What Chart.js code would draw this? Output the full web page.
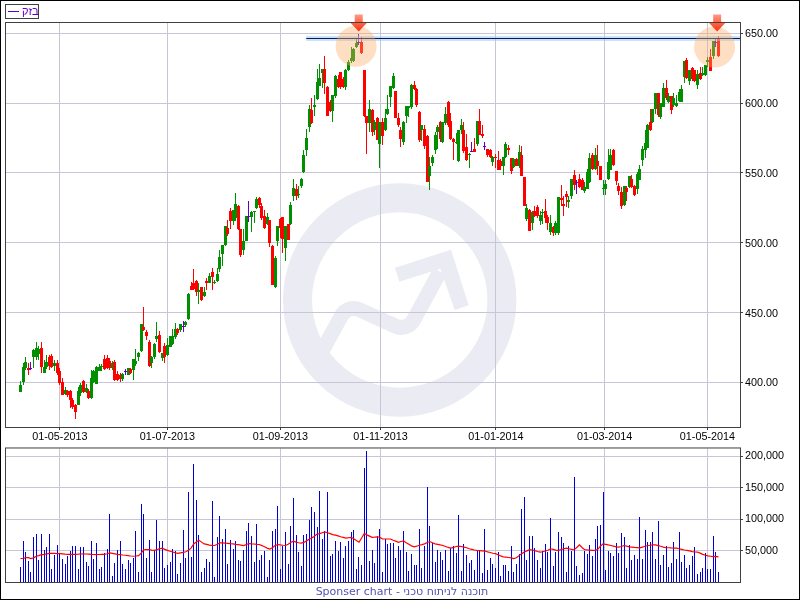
<!DOCTYPE html>
<html lang="he">

<head>
  <meta charset="UTF-8" />
  <title>בזק</title>
  <script src="https://cdn.jsdelivr.net/npm/chart.js"></script>
  <style>
    body { margin: 0; background: #fff; }
    canvas { position: absolute; left: 0; }
    #priceChart { top: 0; }
    #volumeChart { top: 440px; }
    #frame { position: absolute; left: 0; top: 0; width: 800px; height: 600px; box-sizing: border-box; border: 1px solid #000; pointer-events: none; }
    #legend { position: absolute; left: 5px; top: 4px; width: 32px; height: 13px; border: 1px solid #404040; background: #fff; color: #6000c8; font: 11px "Liberation Sans", sans-serif; line-height: 13px; }
    #legend i { position: absolute; left: 2px; top: 6px; width: 11px; height: 1px; background: #6000c8; }
    #legend span { position: absolute; left: 16px; top: 0; }
    #sponsor { position: absolute; left: 0; top: 585px; width: 804px; text-align: center; color: #5454b0; font: 11px "DejaVu Sans", sans-serif; }
  </style>
</head>

<body>
  <canvas id="priceChart" width="800" height="445"></canvas>
  <canvas id="volumeChart" width="800" height="160"></canvas>
  <div id="legend"><i></i><span>בזק</span></div>
  <div id="sponsor" dir="ltr">Sponser chart - תוכנה לניתוח טכני</div>
  <div id="frame"></div>

  <script>
    const dateTicks = [15, 56, 99, 137.2, 181.2, 222.6, 261.8];
    const dateLabels = ['01-05-2013', '01-07-2013', '01-09-2013', '01-11-2013', '01-01-2014', '01-03-2014', '01-05-2014'];
    const priceTicks = [400, 450, 500, 550, 600, 650];
    const volumeTicks = [50000, 100000, 150000, 200000];

    const opens = [
      393.4, 400.1, 410.6, 410.6, 410.6, 418, 418.5, 420.4, 424.5, 407,
      411.3, 418.5, 419, 411.8, 414.2, 407.8, 400.1, 391.8, 393.9, 393.9,
      387.5, 383.9, 383.9, 392, 401, 393, 393.9, 388.6, 400, 399,
      408.2, 411.4, 416.6, 417.3, 415.6, 410.1, 414.4, 405.8, 405.4, 402.5,
      407.8, 405.4, 409.4, 409, 413, 418.5, 422.5, 439.5, 436, 428.8,
      414, 418, 431, 433.8, 417.5, 426, 419.7, 425.6, 427.6, 432.3,
      438.3, 437.6, 440, 440.9, 445.2, 469, 471, 472.7, 464.6, 468,
      461.5, 472.7, 471.5, 478.7, 471.5, 472.9, 481.3, 492.1, 498.6, 510.5,
      522.9, 515.3, 517.7, 526, 509.8, 495, 501.4, 518.9, 518.4, 522.2,
      524.8, 532.2, 526.5, 519.3, 513.4, 516.5, 497.9, 468, 501.4, 517,
      518.4, 496, 513.6, 513.4, 533.7, 538.4, 533.9, 540.4, 551, 566.5,
      583.2, 595.2, 597.5, 603, 612.4, 621.4, 624.3, 611.9, 601, 594.5,
      605.2, 617, 622, 617.4, 611.9, 623.8, 630.5, 630.5, 640.5, 643.6,
      644.1, 623.8, 590.9, 586, 595.2, 580.8, 589.7, 570.8, 586.3, 580.8,
      592, 604.2, 610.7, 608.8, 589.7, 580.8, 572.5, 590.9, 596.5, 597.5,
      613.1, 610.2, 594, 580.8, 581.5, 576.5, 548.1, 556.9, 566.5, 579.6,
      586.8, 571.8, 585.6, 600.9, 587.3, 574.1, 571.3, 558.6, 580.8, 580.4,
      568.9, 563, 565.5, 567, 570.6, 587.3, 578, 569.4, 567, 566.5,
      557.6, 561.2, 559.6, 558.4, 554.8, 561.2, 567.9, 560.7, 554, 560.3,
      555.3, 563.1, 546.9, 517.3, 523.7, 514.2, 522.5, 525.6, 515.4, 522,
      523, 518.2, 507.5, 511, 507, 507, 532.1, 528, 535.2, 529,
      533.8, 548.8, 543.3, 545.9, 545.2, 536.9, 538.8, 543.3, 563.1, 553.1,
      558.8, 555.2, 539, 538.7, 545.9, 552.3, 566.7, 551.6, 540.4, 536.3,
      527.3, 539.2, 539.7, 545.9, 540.9, 538.5, 545.2, 559.5, 566.7, 568.2,
      586.3, 586.3, 595.9, 607.1, 590.4, 597.5, 610.7, 600.6, 605.2, 598.7,
      598.3, 601.8, 601.1, 619, 631, 615.9, 625, 623.8, 613.3, 621.4,
      620.2, 620.2, 629.8, 633.4, 634, 643.6, 646.5
    ];
    const highs = [
      400.6, 413.7, 418, 413.7, 414.4, 424, 428.8, 425.7, 428.8, 416,
      419.7, 419.7, 420.4, 416.1, 416.1, 410.1, 403, 397, 394.4, 394.4,
      388.6, 384.6, 397, 399.4, 401.5, 399, 395, 408.5, 409, 411.8,
      413, 413, 419.7, 419.7, 417.3, 415.6, 416.1, 407.8, 406.6, 407,
      409.4, 410.1, 410, 417, 424, 421.5, 442, 454, 437.6, 430.4,
      419, 428, 443, 436.6, 421, 428, 432, 433.5, 438, 442.4,
      439, 442, 444, 444, 463.9, 472, 481.3, 473.4, 471, 468.2,
      468, 474.6, 478, 481.8, 473, 481.8, 494.9, 498.6, 512.2, 516.5,
      524.8, 523.2, 535.6, 527, 510, 509.8, 519.3, 530, 522.5, 523,
      532.7, 532.7, 528.4, 523.6, 521.3, 516.5, 498.6, 490.2, 512.2, 517.7,
      518.4, 512.2, 513.6, 529, 545.9, 542.3, 540.4, 546.3, 566.5, 581.3,
      598.7, 603.5, 606, 624.3, 628, 624.5, 633.8, 612.3, 602, 606,
      620.2, 620, 622.1, 619, 624.3, 631, 640, 639.3, 646.5, 649.6,
      647.2, 623.8, 591, 602.3, 595.9, 588, 590, 586.8, 589, 595.6,
      606, 612.5, 621.4, 609, 592.8, 583, 587, 598.2, 598.2, 613.5,
      615.5, 610.5, 594.2, 584, 584.4, 577, 561.7, 563, 579.6, 584.4,
      587.3, 586.8, 597, 601.2, 592.8, 574.8, 578.4, 581, 588.7, 586.8,
      578, 564, 572, 574.8, 587.5, 595.9, 584, 572.5, 567.2, 567,
      562, 563.6, 566, 560, 561.5, 572, 570.3, 561, 560.5, 561,
      570.3, 569, 547.2, 528, 524, 522.5, 526.6, 527.3, 522.5, 524.2,
      531.6, 520, 520, 511.8, 515.4, 532.6, 541.6, 533.3, 536.9, 533.3,
      546, 551.9, 545.2, 549.5, 546.4, 543.3, 552.9, 564.3, 564.3, 568,
      570.3, 555.2, 545.2, 545.2, 567.1, 567.1, 567.4, 551.6, 542.8, 539.9,
      540.9, 540.4, 548, 548.8, 541, 550.7, 555.9, 569, 581, 585,
      595.9, 596, 607.3, 607.3, 600.3, 614.3, 616.6, 607.1, 605.4, 607,
      606, 610, 613, 630.3, 632.2, 623.8, 626.2, 624, 623.8, 626.2,
      626.2, 627.4, 632.7, 638.9, 644.6, 646.5, 648.2
    ];
    const lows = [
      393.4, 398.2, 408.5, 404.9, 408.5, 410, 416, 416.1, 406.6, 406.6,
      409.4, 408.9, 410.1, 407.8, 405.4, 398.2, 390.6, 391, 389.8, 381.5,
      380.8, 373.6, 383.9, 390, 392.7, 392, 388.2, 388, 399.4, 398.9,
      407.8, 407.8, 408.9, 409.4, 408.9, 408.9, 400.6, 400.6, 400.1, 401.3,
      405.4, 405.3, 406.3, 402, 412, 415.6, 422, 437, 430.4, 411,
      410, 417, 429, 420.9, 415, 414.2, 419, 425, 427, 431,
      434, 435.7, 436.4, 439.7, 444.3, 465.8, 466, 461.5, 456.2, 458.6,
      461, 466, 471, 466, 470.5, 472, 478.7, 483, 498, 504.5,
      510, 512.9, 515.3, 509.3, 489.5, 491.4, 501, 514.6, 508, 514,
      524.4, 524.8, 516.5, 509.8, 512.9, 496.7, 469.9, 467.5, 497.4, 503.3,
      493, 486.6, 501.6, 512.4, 529.6, 530.3, 532, 539.2, 549.8, 562.4,
      579.6, 585, 590.8, 602.3, 612, 611, 606.6, 590.8, 594, 586.6,
      604, 610.7, 610.2, 611, 609.5, 623, 629, 629.8, 639.3, 641.7,
      635.5, 590, 563.6, 579.6, 576.8, 577, 573.7, 553.8, 570, 580,
      591.6, 597, 610, 589, 583, 568.4, 570, 586, 590, 596,
      609.5, 597.5, 572.5, 573, 567, 543.5, 537.8, 555, 563.4, 567,
      572.5, 571.3, 584.4, 583, 573.7, 559.3, 571, 558, 578, 564,
      558.9, 553.4, 564.8, 564.8, 569.6, 577, 574.9, 566.5, 561.7, 561,
      555, 553.6, 552, 552, 548.3, 560.7, 563.1, 549.5, 553.6, 555,
      553.6, 548, 526.1, 515.4, 508.2, 509.4, 518.5, 517.8, 513, 513.5,
      514, 509.4, 505.8, 505, 505.3, 505.8, 526.6, 519.4, 525.6, 525,
      531.4, 538, 535.2, 539.2, 537.9, 535.7, 538.8, 542.8, 552.4, 552,
      548.8, 544.7, 534.4, 534, 545.2, 552, 555, 541.6, 534, 524.2,
      526.6, 529.7, 539.2, 539.2, 533.7, 535, 544.7, 555.2, 560.7, 568.2,
      580, 585.6, 592, 590.4, 588.5, 597, 602.3, 600, 592.3, 597,
      597, 600.6, 600.6, 614.7, 617.1, 613, 616.2, 615, 610.2, 616.7,
      619.5, 619.7, 626.2, 623.3, 631.7, 640.5, 633.4
    ];
    const closes = [
      398.2, 411.3, 414.7, 408.9, 410.6, 423.3, 424.5, 423.7, 411.3, 411.3,
      414.7, 411.8, 411.3, 413.7, 406.6, 399.4, 390.6, 394.6, 390.6, 387,
      382.2, 378.4, 393.9, 398, 393.4, 396, 388.6, 403, 407.8, 411.3,
      411.3, 411.8, 409.4, 410.1, 410.1, 413.7, 401.8, 401.8, 402.3, 405.8,
      407.8, 410, 406.6, 417, 415, 421, 442, 437.6, 433, 411.8,
      418, 427.6, 433.3, 422, 420.9, 418, 426.8, 433.3, 433.5, 438.3,
      435.2, 441.9, 440, 443.3, 463.4, 466, 466.7, 465, 466.2, 459,
      465, 471.5, 476.3, 475.8, 472.2, 477.8, 489.6, 498.6, 512.2, 506.4,
      515.3, 523.2, 528, 510, 491.4, 501.4, 519.3, 518.9, 522, 522.7,
      531.5, 527.2, 517.7, 510.3, 518.2, 499.8, 469.9, 489.3, 512.2, 510.5,
      502.9, 512.2, 502, 527.2, 539.2, 533.7, 534.6, 545.9, 562.9, 574.9,
      595.9, 585.6, 598.7, 615, 617.8, 624.3, 614.7, 590.9, 594.5, 605.9,
      619.5, 611.4, 611.2, 611.9, 623.8, 629.8, 632.2, 638.6, 642.9, 643.6,
      635.8, 590.9, 586, 595.9, 579.6, 586.8, 573.7, 586.3, 576.5, 589.7,
      595.9, 612.4, 619.5, 589.2, 584, 574.4, 586.8, 598, 598, 613.1,
      610, 598.7, 573.7, 584, 569.4, 543.8, 555, 561.7, 577.2, 583.2,
      574.1, 586.3, 592.3, 584.4, 574.1, 571.8, 572.5, 580.8, 584.4, 565.8,
      559.3, 563.4, 565.5, 565.3, 587.3, 577.2, 576.5, 569.4, 563, 561.7,
      561.5, 561, 552.4, 555.3, 561.5, 571, 566.7, 551.2, 560.3, 555.3,
      564.8, 548.1, 526.6, 524.9, 508.7, 522, 519.4, 519.4, 520, 522.1,
      517.8, 514.2, 514.2, 507, 514.2, 532.6, 530.4, 526.1, 532.8, 530.9,
      545.9, 541.6, 543.3, 539.7, 538, 539.7, 550.5, 560.7, 553.1, 563.1,
      555.3, 545.2, 539.2, 542.3, 557.8, 563.1, 555.4, 544.5, 537.3, 526.6,
      540.4, 536.6, 548, 539.7, 534.4, 549.2, 553.1, 567.4, 571.4, 584,
      580.8, 595.9, 607.1, 591.6, 600, 610.7, 603.5, 605.2, 595.2, 603.5,
      600, 607.8, 610.2, 630.3, 617.8, 623.8, 617.4, 615.5, 620.7, 617.4,
      621.4, 627.4, 631, 623.3, 644.6, 643.6, 634
    ];
    const volumes = [
      23900, 65900, 47200, 33200, 16100, 72100, 76800, 34800, 76800, 50300,
      55000, 76800, 20800, 42600, 59700, 44100, 36300, 28500, 41000, 48800,
      56600, 58100, 20800, 55000, 55000, 31700, 25400, 65900, 36300, 62800,
      20800, 23900, 45700, 51900, 108000, 9900, 30100, 50300, 65900, 28500,
      20800, 34800, 30100, 37900, 81500, 16100, 123500, 108000, 37900, 67500,
      16100, 50300, 98600, 65900, 65900, 22300, 27000, 31700, 51900, 48800,
      13000, 30100, 83000, 37900, 143800, 39400, 187400, 129800, 75300, 16100,
      22300, 36300, 31700, 128200, 8300, 72100, 104800, 69000, 84600, 28500,
      67500, 51900, 65900, 34800, 33200, 50300, 81500, 93900, 73700, 31700,
      92400, 34800, 42600, 48800, 8300, 34800,
      81500, 84600, 120400, 20800, 56600, 79900, 28500, 89300, 134400, 75300,
      47200, 25400, 75300, 76800, 98600, 118900, 111100, 87700, 145300, 69000,
      81500, 143800, 41000, 44100, 65900, 48800, 64400, 37900, 58100, 65900,
      79900, 83000, 20800, 39400, 27000, 181100, 209200, 33200, 50300, 30100,
      73700, 84600, 16100, 69000, 61200, 62800, 62800, 37900, 56600, 50300,
      81500, 47200, 17600, 44100, 27000, 27000, 84600, 22300, 58100, 151500,
      89300, 62800, 31700, 50300, 47200, 34800, 50300, 17600, 53500, 58100,
      45700, 106400, 17600, 61200, 42600, 30100, 34800, 19200, 50300, 50300,
      14500, 84600, 19200, 37900, 28500, 22300, 47200, 9900, 27000, 27000,
      17600, 56600, 16100, 28500, 44100, 115700, 136000, 34800, 73700, 73700,
      53500, 34800, 22300,
      48800, 61200, 47200, 101700, 25400, 47200, 79900, 72100, 62800, 16100,
      56600, 48800, 167100, 25400, 11400, 14500, 48800, 44100, 59700, 41000,
      69000, 89300, 90800, 143800, 19200, 48800, 45700, 41000, 62800, 45700,
      78400, 72100, 22300, 59700, 34800, 42600, 36300, 103300, 36300, 83000,
      64400, 64400, 79900, 36300, 97100, 27000, 42600, 56600, 23900, 30100,
      64400, 36300, 79900, 31700, 42600, 22300, 27000, 41000, 55000, 13000,
      16100, 22300, 45700, 20200, 20800, 73700, 47200, 16100
    ];
    const volumeAverage = [
      37400, 37400, 38900, 38900, 37400, 38500, 41000, 42000, 43600, 44000,
      44800, 45700, 45700, 45500, 45300, 45100, 44800, 44400, 44100, 44200,
      44100, 44100, 44300, 44600, 44900, 44600, 44300, 44000, 43800, 43600,
      43800, 44000, 44100, 45000, 46200, 45500, 44800, 44100, 43600, 43000,
      42600, 42000, 41400, 41000, 41400, 42000, 46000, 51400, 51500, 51400,
      50800, 50300, 51500, 53000, 54000, 52000, 50300, 49000, 47800, 46500,
      45700, 46500, 47300, 48200, 50500, 54000, 60700, 63500, 66400, 63500,
      60700, 59800, 58800, 58100, 58100, 60000, 62300, 62200, 61800, 61500,
      61000, 60700, 60000, 59500, 58800, 58100, 59500, 61200, 60800, 60500,
      60000, 59700, 58000, 56000, 54000, 52400, 54500, 58000, 59700, 59000,
      58500, 58100, 60000, 63000, 64900, 63500, 62500, 61800, 63000, 65500,
      68000, 70000, 73000, 76300, 77000, 78500, 79900, 78500, 77000, 75500,
      74700, 73500, 72000, 71000, 70000, 70500, 71000, 69000, 66000, 63300,
      70000, 77300, 75000, 73000, 71100, 71500, 72000, 71000, 68500, 68500,
      68500, 68500, 66500, 65000, 63300, 64500, 65400, 62500, 60000, 57500,
      56000, 57000, 58500, 59500, 60700, 63000, 64400, 62500, 60700, 60000,
      59000, 58100, 56500, 55000, 54000, 55000, 56500, 57100, 56500, 55500,
      54500, 53000, 52000, 51000, 50300, 50000, 49700, 49300, 48000, 47000,
      45800, 45200, 43500, 41500, 40000, 39500, 39000, 38500, 37400, 38500,
      42000, 45000, 47700, 49500, 51400, 51000, 50000, 48500, 47700, 48200,
      49300, 50500, 52900, 52000, 50800, 50300, 51500, 53000, 54000, 53000,
      52000, 51400, 55000, 59200, 55000, 51400, 51000, 50800, 50500, 50300,
      52000, 57000, 60700, 60000, 59000, 58100, 57000, 56000, 55500, 56500,
      58100, 57000, 56000, 55500, 55000, 54800, 54500, 55500, 57000, 58100,
      58500, 59000, 59200, 58000, 57000, 55500, 54500, 54500, 54200, 54000,
      54000, 53000, 52000, 51000, 50300, 49500, 48500, 48000, 47700, 46000,
      44000, 42600, 41500, 41000, 40500, 40800, 40000
    ];

    // קו ההתנגדות והסימונים על הפסגות
    const resistanceLevel = 646.3;
    const resistanceStart = 108.9;
    const peakCircles = [[127.9, 640.7], [264.5, 640.2]];
    const peakArrows = [[128.9, 651.3], [265.5, 651.3]];

    const xMin = (6 - 20.5) / 2.624;
    const xMax = (740 - 20.5) / 2.624;
    const indexes = opens.map((v, i) => i);

    const GREEN = '#008f00';
    const RED = '#ff0000';
    const PURPLE = '#6000c8';
    const candleColor = indexes.map(i => closes[i] > opens[i] ? GREEN : closes[i] < opens[i] ? RED : PURPLE);

    // מיישר את העמודות לפיקסלים שלמים כמו בתמונה המקורית
    const snapBars = {
      id: 'snapBars',
      beforeDatasetsDraw(chart) {
        chart.data.datasets.forEach((ds, d) => {
          if (ds.type === 'line') return;
          chart.getDatasetMeta(d).data.forEach(bar => {
            bar.x = Math.floor(bar.x) + 0.5;
            bar.y = Math.round(bar.y);
            bar.base = Math.round(bar.base);
            if (bar.base - bar.y < 1) bar.base = bar.y + 1;
          });
        });
      }
    };

    const plotFrame = {
      id: 'plotFrame',
      afterDraw(chart) {
        const a = chart.chartArea, c = chart.ctx;
        c.save();
        c.strokeStyle = '#404040';
        c.lineWidth = 1;
        c.strokeRect(a.left - 0.5, a.top - 0.5, a.right - a.left + 1, a.bottom - a.top + 1);
        c.restore();
      }
    };

    const watermark = {
      id: 'watermark',
      beforeDraw(chart) {
        const c = chart.ctx;
        c.save();
        c.strokeStyle = c.fillStyle = '#ebebf3';
        c.lineWidth = 29;
        c.beginPath();
        c.arc(399.7, 300, 102.2, 0, Math.PI * 2);
        c.stroke();
        c.lineWidth = 15;
        c.beginPath();
        c.moveTo(320, 355);
        c.arcTo(347.7, 304.3, 407.3, 331.5, 14);
        c.arcTo(407.3, 331.5, 440, 271.7, 14);
        c.lineTo(440, 271.7);
        c.stroke();
        c.beginPath();
        c.moveTo(395, 267.7);
        c.lineTo(451, 249.7);
        c.lineTo(468.7, 305.3);
        c.lineTo(454.7, 310);
        c.lineTo(440.3, 268.7);
        c.lineTo(399.3, 281.7);
        c.closePath();
        c.fill();
        c.restore();
      }
    };

    const peakMarks = {
      id: 'peakMarks',
      afterDatasetsDraw(chart) {
        const c = chart.ctx, x = chart.scales.x, y = chart.scales.y;
        c.save();
        c.fillStyle = 'rgba(252,170,100,0.38)';
        peakCircles.forEach(p => {
          c.beginPath();
          c.arc(x.getPixelForValue(p[0]), y.getPixelForValue(p[1]), 20.5, 0, Math.PI * 2);
          c.fill();
        });
        peakArrows.forEach(p => {
          const tx = x.getPixelForValue(p[0]), ty = y.getPixelForValue(p[1]);
          const g = c.createLinearGradient(0, ty - 17, 0, ty);
          g.addColorStop(0, '#ff9a8a');
          g.addColorStop(0.45, '#ff6a4a');
          g.addColorStop(1, '#f83010');
          c.fillStyle = g;
          c.beginPath();
          c.moveTo(tx - 4, ty - 17);
          c.lineTo(tx + 4, ty - 17);
          c.lineTo(tx + 4, ty - 9);
          c.lineTo(tx + 8.5, ty - 9);
          c.lineTo(tx, ty);
          c.lineTo(tx - 8.5, ty - 9);
          c.lineTo(tx - 4, ty - 9);
          c.closePath();
          c.fill();
        });
        c.restore();
      }
    };

    const tickFont = { family: '"Liberation Sans", Arial, sans-serif', size: 10.8 };
    const gridColor = '#c8c6d6';

    new Chart(document.getElementById('priceChart'), {
      type: 'bar',
      data: {
        datasets: [
          {
            type: 'line', order: 1,
            data: [{ x: resistanceStart, y: resistanceLevel }, { x: xMax, y: resistanceLevel }],
            borderColor: '#0a1a50', borderWidth: 1, pointRadius: 0
          },
          {
            type: 'line', order: 2,
            data: [{ x: resistanceStart, y: resistanceLevel }, { x: xMax, y: resistanceLevel }],
            borderColor: 'rgba(150,200,250,0.5)', borderWidth: 5, pointRadius: 0
          },
          {
            order: 3, grouped: false, barThickness: 3, inflateAmount: 0,
            data: indexes.map(i => ({ x: i, y: [opens[i], closes[i]] })),
            backgroundColor: candleColor
          },
          {
            order: 4, grouped: false, barThickness: 1, inflateAmount: 0,
            data: indexes.map(i => ({ x: i, y: [lows[i], highs[i]] })),
            backgroundColor: candleColor
          }
        ]
      },
      options: {
        responsive: false,
        animation: false,
        layout: { padding: { left: 6, top: 23, right: 0, bottom: 0 } },
        plugins: { legend: { display: false }, tooltip: { enabled: false } },
        scales: {
          x: {
            type: 'linear', min: xMin, max: xMax, offset: false,
            grid: { offset: false, color: gridColor, tickColor: '#404040', tickLength: 3 },
            border: { display: false },
            afterBuildTicks: s => { s.ticks = dateTicks.map(v => ({ value: v })); },
            afterFit: s => { s.height = 18; },
            ticks: {
              autoSkip: false, maxRotation: 0, padding: 1, color: '#000', font: tickFont,
              callback: v => dateLabels[dateTicks.indexOf(v)]
            }
          },
          y: {
            position: 'right', min: 368, max: 657.4, beginAtZero: false,
            grid: { color: gridColor, tickColor: '#404040', tickLength: 3 },
            border: { display: false },
            afterBuildTicks: s => { s.ticks = priceTicks.map(v => ({ value: v })); },
            afterFit: s => { s.width = 60; },
            ticks: { padding: 2, labelOffset: 1, color: '#000', font: tickFont, callback: v => v.toFixed(2) }
          }
        }
      },
      plugins: [watermark, snapBars, peakMarks, plotFrame]
    });

    new Chart(document.getElementById('volumeChart'), {
      type: 'bar',
      data: {
        datasets: [
          {
            type: 'line', order: 1,
            data: indexes.map(i => ({ x: i, y: volumeAverage[i] })),
            borderColor: '#ff0000', borderWidth: 1.2, pointRadius: 0
          },
          {
            order: 2, grouped: false, barThickness: 1, inflateAmount: 0,
            data: indexes.map(i => ({ x: i, y: volumes[i] })),
            backgroundColor: '#0000d8'
          }
        ]
      },
      options: {
        responsive: false,
        animation: false,
        layout: { padding: { left: 6, top: 5, right: 0, bottom: 0 } },
        plugins: { legend: { display: false }, tooltip: { enabled: false } },
        scales: {
          x: {
            type: 'linear', min: xMin, max: xMax, offset: false,
            grid: { offset: false, color: gridColor, drawTicks: false },
            border: { display: false },
            afterBuildTicks: s => { s.ticks = dateTicks.map(v => ({ value: v })); },
            afterFit: s => { s.height = 18; },
            ticks: { display: false }
          },
          y: {
            position: 'right', min: 0, max: 212600,
            grid: { color: gridColor, tickColor: '#404040', tickLength: 3 },
            border: { display: false },
            afterBuildTicks: s => { s.ticks = volumeTicks.map(v => ({ value: v })); },
            afterFit: s => { s.width = 60; },
            ticks: { padding: 2, color: '#000', font: tickFont, callback: v => v.toLocaleString('en-US') }
          }
        }
      },
      plugins: [snapBars, plotFrame]
    });
  </script>
</body>

</html>
